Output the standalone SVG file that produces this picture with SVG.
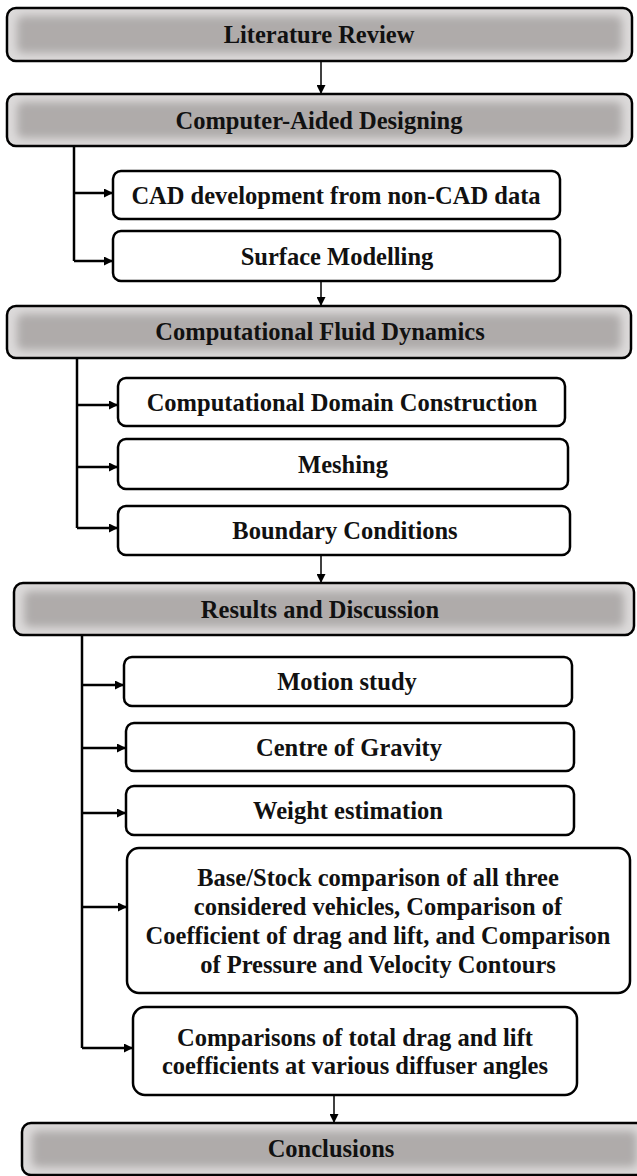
<svg xmlns="http://www.w3.org/2000/svg" width="637" height="1176" viewBox="0 0 637 1176">
<defs>
<marker id="ah" viewBox="0 0 10 10" refX="10" refY="5" markerWidth="10" markerHeight="9" markerUnits="userSpaceOnUse" orient="auto">
<path d="M0,0 L10,5 L0,10 z" fill="#000"/>
</marker>
<filter id="blur" x="-10%" y="-30%" width="120%" height="160%">
<feGaussianBlur stdDeviation="4"/>
</filter>
<style>
.gbox{fill:#dcdada;stroke:#000;stroke-width:2.5}
.ginner{fill:#afabaa;filter:url(#blur)}
.wbox{fill:#fff;stroke:#000;stroke-width:2.5}
.t{font-family:"Liberation Serif","Times New Roman",serif;font-weight:bold;font-size:24.5px;fill:#111;text-anchor:middle;dominant-baseline:central}
.thin{stroke:#000;stroke-width:1.5;fill:none}
.thick{stroke:#000;stroke-width:2.5;fill:none}
</style>
</defs>
<g id="connectors">
<line class="thin" x1="321" y1="61" x2="321" y2="94" marker-end="url(#ah)"/>
<line class="thin" x1="321" y1="281" x2="321" y2="306" marker-end="url(#ah)"/>
<line class="thin" x1="321" y1="555" x2="321" y2="583" marker-end="url(#ah)"/>
<line class="thin" x1="334" y1="1095" x2="334" y2="1123" marker-end="url(#ah)"/>
<polyline class="thick" points="74,146 74,261"/>
<line class="thick" x1="74" y1="193" x2="113" y2="193" marker-end="url(#ah)"/>
<line class="thick" x1="74" y1="261" x2="113" y2="261" marker-end="url(#ah)"/>
<polyline class="thick" points="77,357 77,528"/>
<line class="thick" x1="77" y1="405" x2="118" y2="405" marker-end="url(#ah)"/>
<line class="thick" x1="77" y1="467" x2="118" y2="467" marker-end="url(#ah)"/>
<line class="thick" x1="77" y1="528" x2="118" y2="528" marker-end="url(#ah)"/>
<polyline class="thick" points="82,636 82,1048"/>
<line class="thick" x1="82" y1="685" x2="124" y2="685" marker-end="url(#ah)"/>
<line class="thick" x1="82" y1="748" x2="126" y2="748" marker-end="url(#ah)"/>
<line class="thick" x1="82" y1="813" x2="126" y2="813" marker-end="url(#ah)"/>
<line class="thick" x1="82" y1="907" x2="127" y2="907" marker-end="url(#ah)"/>
<line class="thick" x1="82" y1="1048" x2="133" y2="1048" marker-end="url(#ah)"/>
</g>
<g id="n-literature">
<rect class="gbox" x="7" y="8" width="625" height="53" rx="9"/>
<rect class="ginner" x="17" y="16" width="605" height="37" rx="6"/>
<text class="t" x="319" y="34.5">Literature Review</text>
</g>
<g id="n-cad">
<rect class="gbox" x="7" y="94" width="625" height="52" rx="9"/>
<rect class="ginner" x="17" y="102" width="605" height="36" rx="6"/>
<text class="t" x="319" y="120">Computer-Aided Designing</text>
</g>
<g id="n-cad-dev">
<rect class="wbox" x="113" y="171" width="447" height="48" rx="8"/>
<text class="t" x="336" y="195">CAD development from non-CAD data</text>
</g>
<g id="n-surface">
<rect class="wbox" x="113" y="231" width="447" height="50" rx="8"/>
<text class="t" x="337" y="256">Surface Modelling</text>
</g>
<g id="n-cfd">
<rect class="gbox" x="7" y="306" width="624" height="52" rx="9"/>
<rect class="ginner" x="17" y="314" width="604" height="36" rx="6"/>
<text class="t" x="320" y="331">Computational Fluid Dynamics</text>
</g>
<g id="n-domain">
<rect class="wbox" x="118" y="378" width="447" height="48" rx="8"/>
<text class="t" x="342" y="402">Computational Domain Construction</text>
</g>
<g id="n-meshing">
<rect class="wbox" x="118" y="439" width="450" height="50" rx="8"/>
<text class="t" x="343" y="464">Meshing</text>
</g>
<g id="n-boundary">
<rect class="wbox" x="118" y="506" width="452" height="49" rx="8"/>
<text class="t" x="345" y="530">Boundary Conditions</text>
</g>
<g id="n-results">
<rect class="gbox" x="14" y="583" width="620" height="52" rx="9"/>
<rect class="ginner" x="24" y="591" width="600" height="36" rx="6"/>
<text class="t" x="320" y="609">Results and Discussion</text>
</g>
<g id="n-motion">
<rect class="wbox" x="124" y="657" width="448" height="49" rx="8"/>
<text class="t" x="347" y="681">Motion study</text>
</g>
<g id="n-cog">
<rect class="wbox" x="126" y="723" width="448" height="48" rx="8"/>
<text class="t" x="349" y="747">Centre of Gravity</text>
</g>
<g id="n-weight">
<rect class="wbox" x="126" y="786" width="448" height="49" rx="8"/>
<text class="t" x="348" y="810">Weight estimation</text>
</g>
<g id="n-base">
<rect class="wbox" x="127" y="848" width="503" height="145" rx="12"/>
<text class="t" x="378" y="877">Base/Stock comparison of all three</text>
<text class="t" x="378" y="906">considered vehicles, Comparison of</text>
<text class="t" x="378" y="935">Coefficient of drag and lift, and Comparison</text>
<text class="t" x="378" y="964">of Pressure and Velocity Contours</text>
</g>
<g id="n-diffuser">
<rect class="wbox" x="133" y="1007" width="444" height="88" rx="12"/>
<text class="t" x="355" y="1037">Comparisons of total drag and lift</text>
<text class="t" x="355" y="1065">coefficients at various diffuser angles</text>
</g>
<g id="n-conclusions">
<rect class="gbox" x="22" y="1123" width="625" height="52" rx="9"/>
<rect class="ginner" x="32" y="1131" width="605" height="36" rx="6"/>
<text class="t" x="331" y="1148">Conclusions</text>
</g>
</svg>
